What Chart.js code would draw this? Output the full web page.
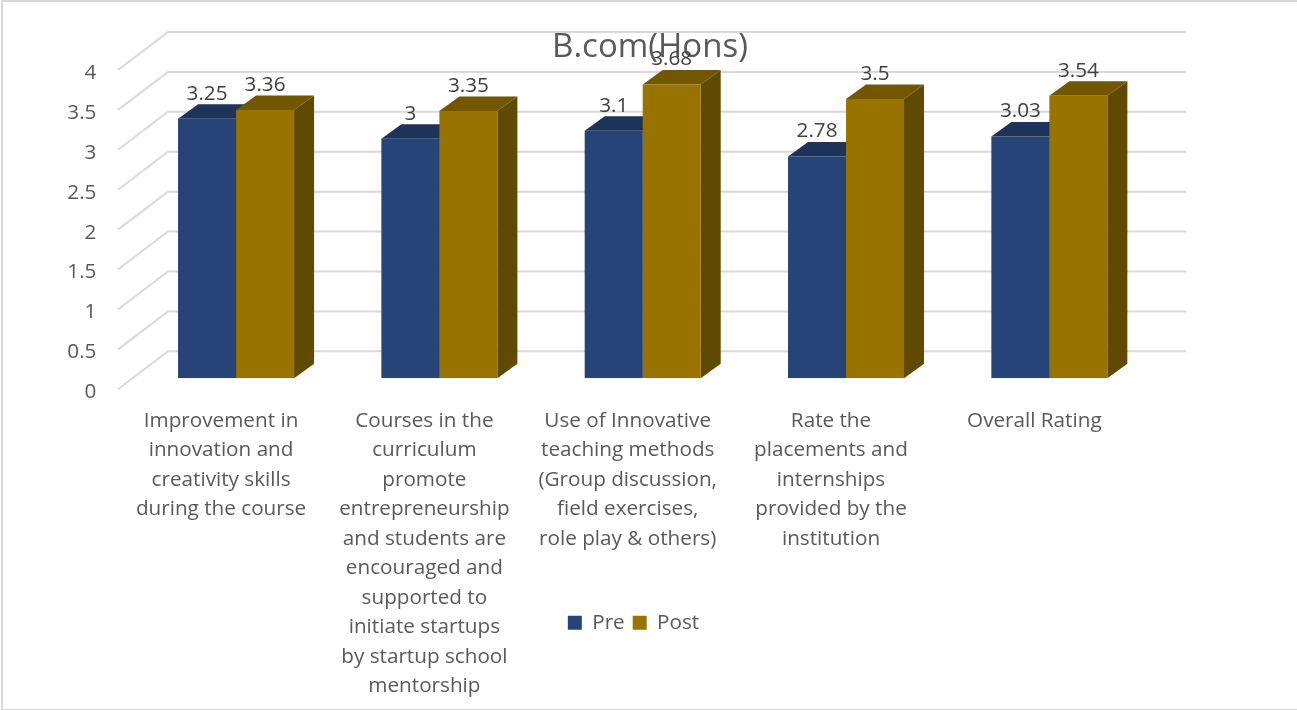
<!DOCTYPE html>
<html>
<head>
<meta charset="utf-8">
<title>B.com(Hons)</title>
<script src="https://cdn.jsdelivr.net/npm/chart.js@4"></script>
<style>
  html, body { margin: 0; padding: 0; background: #fff; }
  #wrap { position: relative; width: 1297px; height: 710px; overflow: hidden; }
  #frame { position: absolute; left: 1px; top: 0; width: 1400px; height: 710px; border: solid #d9d9d9; border-width: 2px 2px 1px 2px; box-sizing: border-box; }
</style>
</head>
<body>
<div id="wrap">
  <canvas id="barChart" width="1297" height="710"></canvas>
  <div id="frame"></div>
</div>
<script>
const categories = [
    ['Improvement in', 'innovation and', 'creativity skills', 'during the course'],
    ['Courses in the', 'curriculum', 'promote', 'entrepreneurship', 'and students are', 'encouraged and', 'supported to', 'initiate startups', 'by startup school', 'mentorship'],
    ['Use of Innovative', 'teaching methods', '(Group discussion,', 'field exercises,', 'role play & others)'],
    ['Rate the', 'placements and', 'internships', 'provided by the', 'institution'],
    ['Overall Rating']
];
const preValues = [3.25, 3, 3.1, 2.78, 3.03];
const postValues = [3.36, 3.35, 3.68, 3.5, 3.54];

const fontFamily = '"Open Sans", "Noto Sans", sans-serif';

// how far the 3D box goes back, in pixels
const depthX = 20;
const depthY = 14.5;

const faceColors = [
    { top: '#1d3359', side: '#1a2d4f' },
    { top: '#735600', side: '#604900' }
];

// skewed floor/wall gridlines hung off the y scale, then the top and side of
// each bar. Pre goes first so the Post box covers it; the fronts come later
const wallAndFaces = {
    id: 'wallAndFaces',
    beforeDatasetsDraw(chart) {
        const { ctx, scales: { y: yScale } } = chart;
        ctx.save();
        ctx.strokeStyle = '#d9d9d9';
        ctx.lineWidth = 2;
        yScale.ticks.forEach(tick => {
            const py = yScale.getPixelForValue(tick.value);
            ctx.beginPath();
            ctx.moveTo(118, py + 11);
            ctx.lineTo(168, py - 27);
            ctx.lineTo(1186, py - 27);
            ctx.stroke();
        });

        chart.data.datasets.forEach((ds, i) => {
            chart.getDatasetMeta(i).data.forEach(bar => {
                const { x, y, base, width } = bar.getProps(['x', 'y', 'base', 'width'], true);
                const l = x - width / 2;
                const r = x + width / 2;

                ctx.fillStyle = faceColors[i].side;
                ctx.beginPath();
                ctx.moveTo(r, y);
                ctx.lineTo(r + depthX, y - depthY);
                ctx.lineTo(r + depthX, base - depthY);
                ctx.lineTo(r, base);
                ctx.closePath();
                ctx.fill();

                ctx.fillStyle = faceColors[i].top;
                ctx.beginPath();
                ctx.moveTo(l, y);
                ctx.lineTo(l + depthX, y - depthY);
                ctx.lineTo(r + depthX, y - depthY);
                ctx.lineTo(r, y);
                ctx.closePath();
                ctx.fill();
            });
        });
        ctx.restore();
    }
};

const valueLabels = {
    id: 'valueLabels',
    afterDatasetsDraw(chart) {
        const { ctx } = chart;
        ctx.save();
        ctx.fillStyle = '#404040';
        ctx.font = '20.7px ' + fontFamily;
        ctx.textAlign = 'center';
        ctx.textBaseline = 'middle';
        chart.data.datasets.forEach((ds, i) => {
            chart.getDatasetMeta(i).data.forEach((bar, j) => {
                ctx.fillText(String(ds.data[j]), bar.x, bar.y - 25);
            });
        });
        ctx.restore();
    }
};

// title and legend are not centred on the plot in the original,
// and the long x labels run past the legend so the axis box has to reach down
const shiftBoxes = {
    id: 'shiftBoxes',
    afterLayout(chart) {
        chart.titleBlock.left = 0;
        chart.titleBlock.right = 1300;
        chart.legend.left = 0;
        chart.legend.right = 1267;
        chart.scales.x.bottom = 710;
    }
};

new Chart(document.getElementById('barChart'), {
    type: 'bar',
    data: {
        labels: categories,
        datasets: [
            { label: 'Pre', data: preValues, backgroundColor: '#264478' },
            { label: 'Post', data: postValues, backgroundColor: '#997300' }
        ]
    },
    options: {
        responsive: false,
        animation: false,
        categoryPercentage: 0.5706,
        barPercentage: 1,
        layout: { padding: { left: 0, top: 0, right: 146, bottom: 67 } },
        scales: {
            x: {
                grid: { display: false },
                border: { display: false },
                ticks: {
                    autoSkip: false,
                    maxRotation: 0,
                    padding: 20,
                    labelOffset: -15,
                    color: '#595959',
                    font: { family: fontFamily, size: 20.7, lineHeight: 1.425 }
                },
                afterFit(scale) { scale.height = 226; }
            },
            y: {
                min: 0,
                max: 4,
                grid: { display: false },
                border: { display: false },
                ticks: {
                    stepSize: 0.5,
                    padding: 30,
                    labelOffset: 14,
                    color: '#595959',
                    font: { family: fontFamily, size: 20.7 },
                    callback: value => String(value)
                },
                afterFit(scale) { scale.width = 134.4; }
            }
        },
        plugins: {
            title: {
                display: true,
                text: 'B.com(Hons)',
                color: '#595959',
                padding: { top: 28.2, bottom: -8.8 },
                font: { family: fontFamily, size: 33, weight: 'normal', lineHeight: 1.2 }
            },
            legend: {
                position: 'bottom',
                labels: {
                    boxWidth: 14,
                    boxHeight: 14,
                    padding: 8,
                    color: '#595959',
                    font: { family: fontFamily, size: 20.7 }
                }
            },
            tooltip: { enabled: false }
        }
    },
    plugins: [wallAndFaces, valueLabels, shiftBoxes]
});
</script>
</body>
</html>
